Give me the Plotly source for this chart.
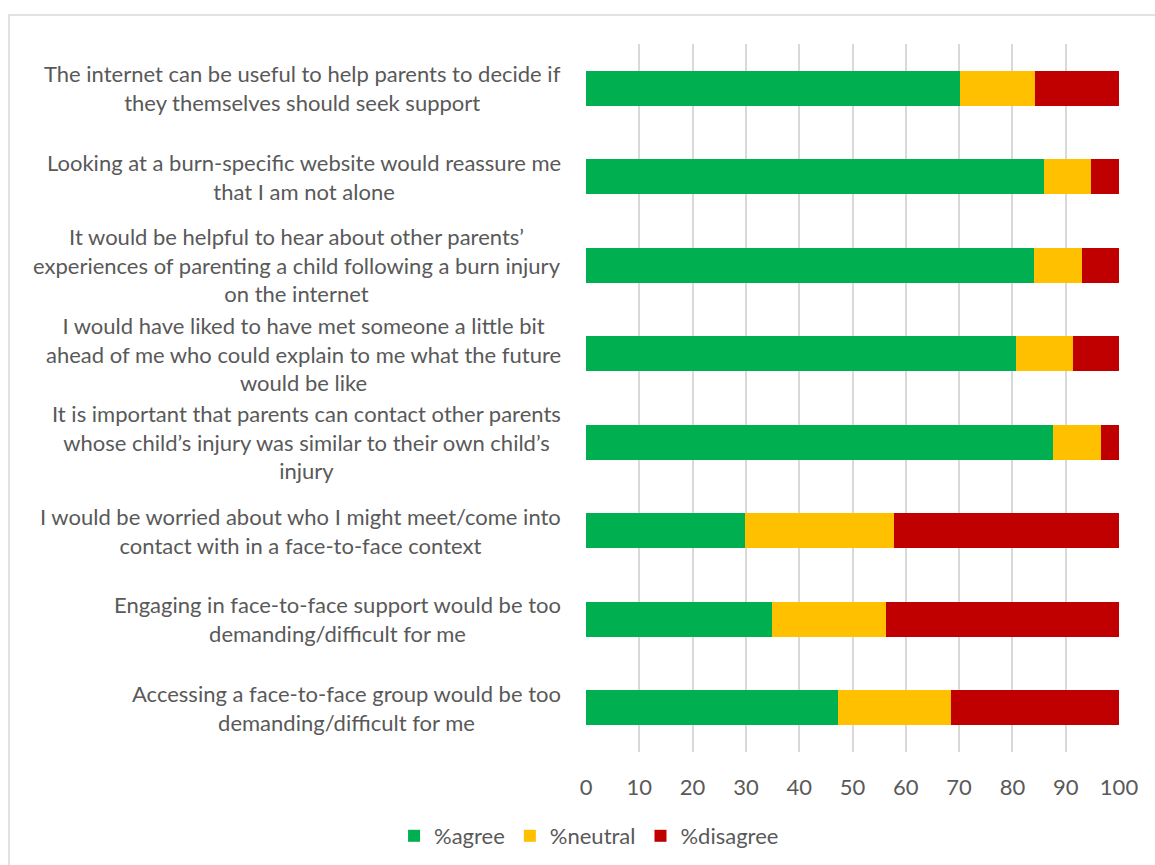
import plotly.graph_objects as go

categories = [
    "The internet can be useful to help parents to decide if<br>they themselves should seek support",
    "Looking at a burn-specific website would reassure me<br>that I am not alone",
    "It would be helpful to hear about other parents’<br>experiences of parenting a child following a burn injury<br>on the internet",
    "I would have liked to have met someone a little bit<br>ahead of me who could explain to me what the future<br>would be like",
    "It is important that parents can contact other parents<br>whose child’s injury was similar to their own child’s<br>injury",
    "I would be worried about who I might meet/come into<br>contact with in a face-to-face context",
    "Engaging in face-to-face support would be too<br>demanding/difficult for me",
    "Accessing a face-to-face group would be too<br>demanding/difficult for me",
]
agree = [70.1, 86.0, 84.1, 80.7, 87.7, 29.8, 34.9, 47.2]
neutral = [14.1, 8.8, 8.9, 10.6, 8.9, 28.0, 21.3, 21.3]
disagree = [15.8, 5.2, 7.0, 8.7, 3.4, 42.2, 43.8, 31.5]
x_ticks = [0, 10, 20, 30, 40, 50, 60, 70, 80, 90, 100]

series = [("%agree", agree, "#00B050"),
          ("%neutral", neutral, "#FFC000"),
          ("%disagree", disagree, "#C00000")]

FONT = "Lato, Calibri, sans-serif"
TXT = "#595959"
FS = 22

fig = go.Figure()
for name, vals, col in series:
    fig.add_trace(go.Bar(
        y=categories, x=vals, name=name, orientation="h",
        marker=dict(color=col, line=dict(width=0)),
    ))

for c in categories:
    fig.add_annotation(
        x=-0.043, xref="paper", y=c, yref="y",
        text=c, showarrow=False, xanchor="right", yanchor="middle",
        align="center", font=dict(family=FONT, size=FS, color=TXT),
    )

W, H = 1155, 865
L, R, T, B = 586, 36, 44, 113
pw, ph = W - L - R, H - T - B

fig.add_shape(
    type="rect", xref="paper", yref="paper",
    x0=(9 - L) / pw, x1=(W + 5 - L) / pw,
    y0=(H - B - (H + 5)) / ph, y1=(H - B - 15) / ph,
    line=dict(color="#d9d9d9", width=1.5), fillcolor="rgba(0,0,0,0)", layer="below",
)

fig.update_layout(
    width=W, height=H,
    margin=dict(l=L, r=R, t=T, b=B),
    barmode="stack", bargap=0.6,
    plot_bgcolor="white", paper_bgcolor="white",
    font=dict(family=FONT, size=FS, color=TXT),
    showlegend=True,
    legend=dict(orientation="h", xref="container", yref="container",
                x=0.51, y=1 - 836 / H, xanchor="center", yanchor="middle",
                font=dict(family=FONT, size=FS, color=TXT),
                itemwidth=30, traceorder="normal"),
    xaxis=dict(range=[0, 100], tickvals=x_ticks, showgrid=True,
               gridcolor="#d9d9d9", gridwidth=1.5, zeroline=False,
               showline=False, ticks="", ticklabelstandoff=20,
               tickfont=dict(family=FONT, size=FS, color=TXT), fixedrange=True),
    yaxis=dict(categoryorder="array", categoryarray=categories,
               autorange="reversed", showticklabels=False, showgrid=False,
               zeroline=False, showline=False, ticks=""),
)

fig.write_html("out.html")
